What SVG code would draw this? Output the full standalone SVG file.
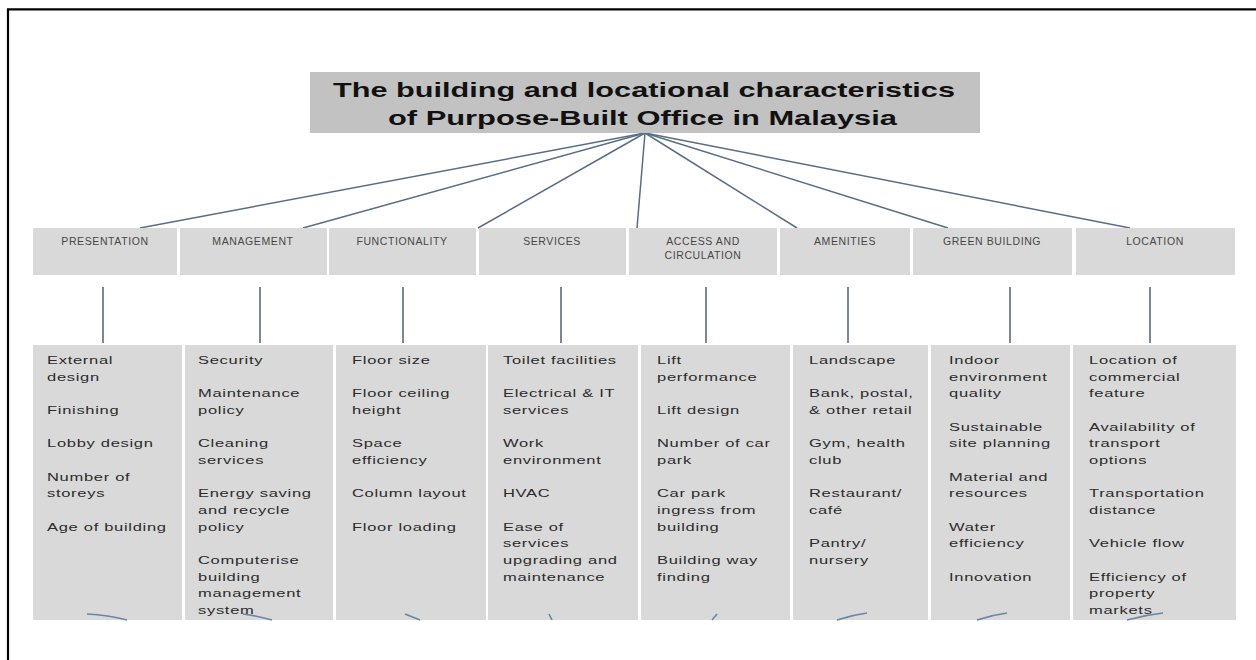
<svg xmlns="http://www.w3.org/2000/svg" width="1256" height="660" viewBox="0 0 1256 660">
<style>
.frame{fill:none;stroke:#000;stroke-width:2.2}
.tbox{fill:#c2c2c2}
.title{font-family:"Liberation Sans",Arial,sans-serif;font-weight:bold;font-size:21px;fill:#111}
.hbox{fill:#d9d9d9}
.cbox{fill:#d9d9d9}
.ht{font-family:"Liberation Sans",Arial,sans-serif;font-size:10.5px;letter-spacing:0.6px;fill:#474747;text-anchor:middle}
.ct{font-family:"Liberation Sans",Arial,sans-serif;font-size:11.8px;letter-spacing:0.5px;fill:#2b2b2b}
.con{fill:none;stroke:#5a6d86;stroke-width:1.5}
.vcon{fill:none;stroke:#4e5f76;stroke-width:1.5}
.frag{fill:none;stroke:#6e84a0;stroke-width:1.6}
</style>
<rect width="1256" height="660" fill="#fff"/>
<path class="frame" d="M8,660 V9.3 H1256"/>

<g id="connectors">
  <line class="con" x1="645" y1="133" x2="140" y2="228"/>
  <line class="con" x1="645" y1="133" x2="303" y2="228"/>
  <line class="con" x1="645" y1="133" x2="478" y2="228"/>
  <line class="con" x1="645" y1="133" x2="637" y2="228"/>
  <line class="con" x1="645" y1="133" x2="797" y2="228"/>
  <line class="con" x1="645" y1="133" x2="948" y2="228"/>
  <line class="con" x1="645" y1="133" x2="1130" y2="228"/>
  <line class="vcon" x1="103" y1="287" x2="103" y2="343"/>
  <line class="vcon" x1="260" y1="287" x2="260" y2="343"/>
  <line class="vcon" x1="403" y1="287" x2="403" y2="343"/>
  <line class="vcon" x1="561" y1="287" x2="561" y2="343"/>
  <line class="vcon" x1="706" y1="287" x2="706" y2="343"/>
  <line class="vcon" x1="848" y1="287" x2="848" y2="343"/>
  <line class="vcon" x1="1010" y1="287" x2="1010" y2="343"/>
  <line class="vcon" x1="1150" y1="287" x2="1150" y2="343"/>
</g>

<g id="title">
  <rect class="tbox" x="310" y="72" width="670" height="61"/>
  <text class="title" x="333" y="97" textLength="622" lengthAdjust="spacingAndGlyphs">The building and locational characteristics</text>
  <text class="title" x="388" y="125" textLength="509" lengthAdjust="spacingAndGlyphs">of Purpose-Built Office in Malaysia</text>
</g>

<g id="h-presentation"><rect class="hbox" x="33" y="228" width="144" height="47"/><text class="ht" x="105" y="245">PRESENTATION</text></g>
<g id="h-management"><rect class="hbox" x="180" y="228" width="147" height="47"/><text class="ht" x="253" y="245">MANAGEMENT</text></g>
<g id="h-functionality"><rect class="hbox" x="329" y="228" width="147" height="47"/><text class="ht" x="402" y="245">FUNCTIONALITY</text></g>
<g id="h-services"><rect class="hbox" x="479" y="228" width="147" height="47"/><text class="ht" x="552" y="245">SERVICES</text></g>
<g id="h-access"><rect class="hbox" x="629" y="228" width="148" height="47"/><text class="ht" x="703" y="245">ACCESS AND</text><text class="ht" x="703" y="259">CIRCULATION</text></g>
<g id="h-amenities"><rect class="hbox" x="780" y="228" width="130" height="47"/><text class="ht" x="845" y="245">AMENITIES</text></g>
<g id="h-green"><rect class="hbox" x="913" y="228" width="159" height="47"/><text class="ht" x="992" y="245">GREEN BUILDING</text></g>
<g id="h-location"><rect class="hbox" x="1076" y="228" width="159" height="47"/><text class="ht" x="1155" y="245">LOCATION</text></g>

<g id="c-presentation">
  <rect class="cbox" x="33" y="345" width="149" height="275"/>
  <g class="ct" transform="translate(47 0) scale(1.4 1)">
    <text y="364">External</text><text y="380.7">design</text>
    <text y="414">Finishing</text>
    <text y="447.3">Lobby design</text>
    <text y="480.7">Number of</text><text y="497.3">storeys</text>
    <text y="530.7">Age of building</text>
  </g>
</g>
<g id="c-management">
  <rect class="cbox" x="185" y="345" width="148" height="275"/>
  <g class="ct" transform="translate(198 0) scale(1.4 1)">
    <text y="364">Security</text>
    <text y="397.3">Maintenance</text><text y="414">policy</text>
    <text y="447.3">Cleaning</text><text y="464">services</text>
    <text y="497.3">Energy saving</text><text y="514">and recycle</text><text y="530.7">policy</text>
    <text y="564">Computerise</text><text y="580.7">building</text><text y="597.3">management</text><text y="614">system</text>
  </g>
</g>
<g id="c-functionality">
  <rect class="cbox" x="336" y="345" width="150" height="275"/>
  <g class="ct" transform="translate(352 0) scale(1.4 1)">
    <text y="364">Floor size</text>
    <text y="397.3">Floor ceiling</text><text y="414">height</text>
    <text y="447.3">Space</text><text y="464">efficiency</text>
    <text y="497.3">Column layout</text>
    <text y="530.7">Floor loading</text>
  </g>
</g>
<g id="c-services">
  <rect class="cbox" x="488" y="345" width="150" height="275"/>
  <g class="ct" transform="translate(503 0) scale(1.4 1)">
    <text y="364">Toilet facilities</text>
    <text y="397.3">Electrical &amp; IT</text><text y="414">services</text>
    <text y="447.3">Work</text><text y="464">environment</text>
    <text y="497.3">HVAC</text>
    <text y="530.7">Ease of</text><text y="547.3">services</text><text y="564">upgrading and</text><text y="580.7">maintenance</text>
  </g>
</g>
<g id="c-access">
  <rect class="cbox" x="641" y="345" width="149" height="275"/>
  <g class="ct" transform="translate(657 0) scale(1.4 1)">
    <text y="364">Lift</text><text y="380.7">performance</text>
    <text y="414">Lift design</text>
    <text y="447.3">Number of car</text><text y="464">park</text>
    <text y="497.3">Car park</text><text y="514">ingress from</text><text y="530.7">building</text>
    <text y="564">Building way</text><text y="580.7">finding</text>
  </g>
</g>
<g id="c-amenities">
  <rect class="cbox" x="793" y="345" width="135" height="275"/>
  <g class="ct" transform="translate(809 0) scale(1.4 1)">
    <text y="364">Landscape</text>
    <text y="397.3">Bank, postal,</text><text y="414">&amp; other retail</text>
    <text y="447.3">Gym, health</text><text y="464">club</text>
    <text y="497.3">Restaurant/</text><text y="514">café</text>
    <text y="547.3">Pantry/</text><text y="564">nursery</text>
  </g>
</g>
<g id="c-green">
  <rect class="cbox" x="931" y="345" width="139" height="275"/>
  <g class="ct" transform="translate(949 0) scale(1.4 1)">
    <text y="364">Indoor</text><text y="380.7">environment</text><text y="397.3">quality</text>
    <text y="430.7">Sustainable</text><text y="447.3">site planning</text>
    <text y="480.7">Material and</text><text y="497.3">resources</text>
    <text y="530.7">Water</text><text y="547.3">efficiency</text>
    <text y="580.7">Innovation</text>
  </g>
</g>
<g id="c-location">
  <rect class="cbox" x="1073" y="345" width="163" height="275"/>
  <g class="ct" transform="translate(1089 0) scale(1.4 1)">
    <text y="364">Location of</text><text y="380.7">commercial</text><text y="397.3">feature</text>
    <text y="430.7">Availability of</text><text y="447.3">transport</text><text y="464">options</text>
    <text y="497.3">Transportation</text><text y="514">distance</text>
    <text y="547.3">Vehicle flow</text>
    <text y="580.7">Efficiency of</text><text y="597.3">property</text><text y="614">markets</text>
  </g>
</g>

<g id="bottom-fragments">
  <path class="frag" d="M87,614 Q108,615 127,620"/>
  <path class="frag" d="M243,614 Q258,616 272,620"/>
  <path class="frag" d="M405,614 L420,620"/>
  <path class="frag" d="M549,614 L552,620"/>
  <path class="frag" d="M717,614 L712,620"/>
  <path class="frag" d="M867,613 Q852,615 837,620"/>
  <path class="frag" d="M1007,613 Q992,615 977,620"/>
  <path class="frag" d="M1163,613 Q1145,615 1127,620"/>
</g>
</svg>
